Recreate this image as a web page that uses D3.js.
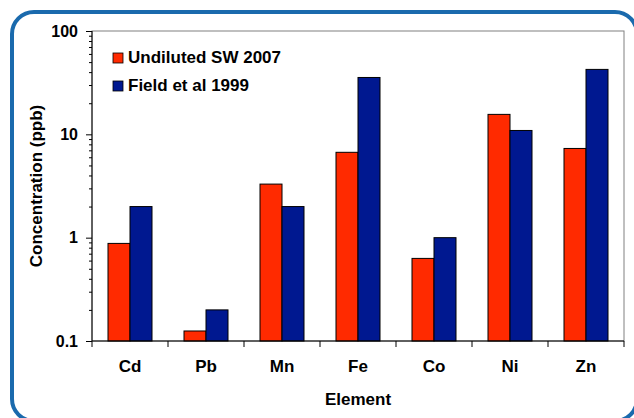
<!DOCTYPE html>
<html>
<head>
<meta charset="utf-8">
<script src="https://cdn.jsdelivr.net/npm/d3@7"></script>
<style>
  body { margin: 0; background: #fff; }
  text { font-family: Arial, "Liberation Sans", sans-serif; font-weight: bold; fill: #000; }
</style>
</head>
<body>
<script>
'use strict';

// chart data
let elements = ["Cd", "Pb", "Mn", "Fe", "Co", "Ni", "Zn"];
let seriesNames = ["Undiluted SW 2007", "Field et al 1999"];
let undiluted = [0.88, 0.125, 3.3, 6.7, 0.63, 15.6, 7.3];
let field = [2, 0.2, 2, 35.5, 1, 10.9, 42.5];
let yTicks = [0.1, 1, 10, 100];
let colors = ["#ff2a00", "#001890"];

const width = 634, height = 418;
const plot = { left: 92, right: 624, top: 31, bottom: 341 };

let svg = d3.select("body").append("svg")
    .attr("width", width)
    .attr("height", height);

// blue rounded frame (runs off the right and bottom edges)
svg.append("rect")
    .attr("x", 12).attr("y", 12)
    .attr("width", 625).attr("height", 409)
    .attr("rx", 22).attr("ry", 22)
    .attr("fill", "none")
    .attr("stroke", "#1a6aad")
    .attr("stroke-width", 4);

let xScale = d3.scaleBand()
    .domain(elements)
    .range([plot.left, plot.right]);

let yScale = d3.scaleLog()
    .domain([0.1, 100])
    .range([plot.bottom, plot.top]);

let inner = d3.scaleBand()
    .domain([0, 1])
    .range([0, 44]);

// plot area box (gray top/right)
svg.append("rect")
    .attr("x", plot.left).attr("y", plot.top)
    .attr("width", plot.right - plot.left)
    .attr("height", plot.bottom - plot.top)
    .attr("fill", "none")
    .attr("stroke", "#808080")
    .attr("stroke-width", 1);

// bars
let rows = elements.map((e, i) => ({ name: e, vals: [undiluted[i], field[i]] }));
let groups = svg.selectAll(".grp")
    .data(rows)
    .enter()
    .append("g")
    .attr("transform", d => "translate(" + (xScale(d.name) + xScale.bandwidth() / 2 - 22) + ",0)");

groups.selectAll("rect")
    .data(d => d.vals)
    .enter()
    .append("rect")
    .attr("x", (d, i) => inner(i))
    .attr("y", d => yScale(d))
    .attr("width", inner.bandwidth())
    .attr("height", d => plot.bottom - yScale(d))
    .attr("fill", (d, i) => colors[i])
    .attr("stroke", "#000")
    .attr("stroke-width", 1);

// y axis with minor ticks
let minor = [];
for (let dec = 0.1; dec < 100; dec *= 10) {
    for (let k = 2; k <= 9; k++) minor.push(+(dec * k).toPrecision(3));
}
let yAxisMinor = d3.axisLeft(yScale)
    .tickValues(minor)
    .tickSize(3)
    .tickFormat("");
svg.append("g")
    .attr("transform", "translate(" + plot.left + ",0)")
    .call(yAxisMinor)
    .call(g => g.select(".domain").remove());

let yAxis = d3.axisLeft(yScale)
    .tickValues(yTicks)
    .tickSize(6)
    .tickPadding(8)
    .tickFormat(d => d3.format("~g")(d));
let yg = svg.append("g")
    .attr("transform", "translate(" + plot.left + ",0)")
    .call(yAxis);
yg.select(".domain").attr("d", "M0," + plot.top + "V" + plot.bottom).attr("stroke", "#000");
yg.selectAll("text").attr("font-size", "16px").attr("font-family", "Arial").attr("font-weight", "bold").attr("fill", "#000");

// x axis
let xAxis = d3.axisBottom(xScale).tickSize(0).tickPadding(19);
let xg = svg.append("g")
    .attr("transform", "translate(0," + plot.bottom + ")")
    .call(xAxis);
xg.select(".domain").attr("d", "M" + plot.left + ",0H" + plot.right).attr("stroke", "#000");
xg.selectAll("text").attr("font-size", "17px").attr("font-family", "Arial").attr("font-weight", "bold").attr("fill", "#000");

// category separator ticks
let bounds = elements.map(e => xScale(e)).concat([plot.right]);
svg.selectAll(".sep")
    .data(bounds)
    .enter()
    .append("line")
    .attr("x1", d => d).attr("x2", d => d)
    .attr("y1", plot.bottom).attr("y2", plot.bottom + 6)
    .attr("stroke", "#000");

// axis titles
svg.append("text")
    .attr("x", (plot.left + plot.right) / 2)
    .attr("y", 405)
    .attr("text-anchor", "middle")
    .attr("font-size", "17px")
    .text("Element");

svg.append("text")
    .attr("transform", "translate(42," + ((plot.top + plot.bottom) / 2) + ") rotate(-90)")
    .attr("text-anchor", "middle")
    .attr("font-size", "17px")
    .text("Concentration (ppb)");

// legend
let legend = svg.selectAll(".leg")
    .data(seriesNames)
    .enter()
    .append("g")
    .attr("transform", (d, i) => "translate(113," + (53 + i * 28) + ")");
legend.append("rect")
    .attr("width", 10).attr("height", 10)
    .attr("fill", (d, i) => colors[i])
    .attr("stroke", "#000")
    .attr("stroke-width", 0.8);
legend.append("text")
    .attr("x", 15).attr("y", 9.5)
    .attr("font-size", "17px")
    .text(d => d);
</script>
</body>
</html>
